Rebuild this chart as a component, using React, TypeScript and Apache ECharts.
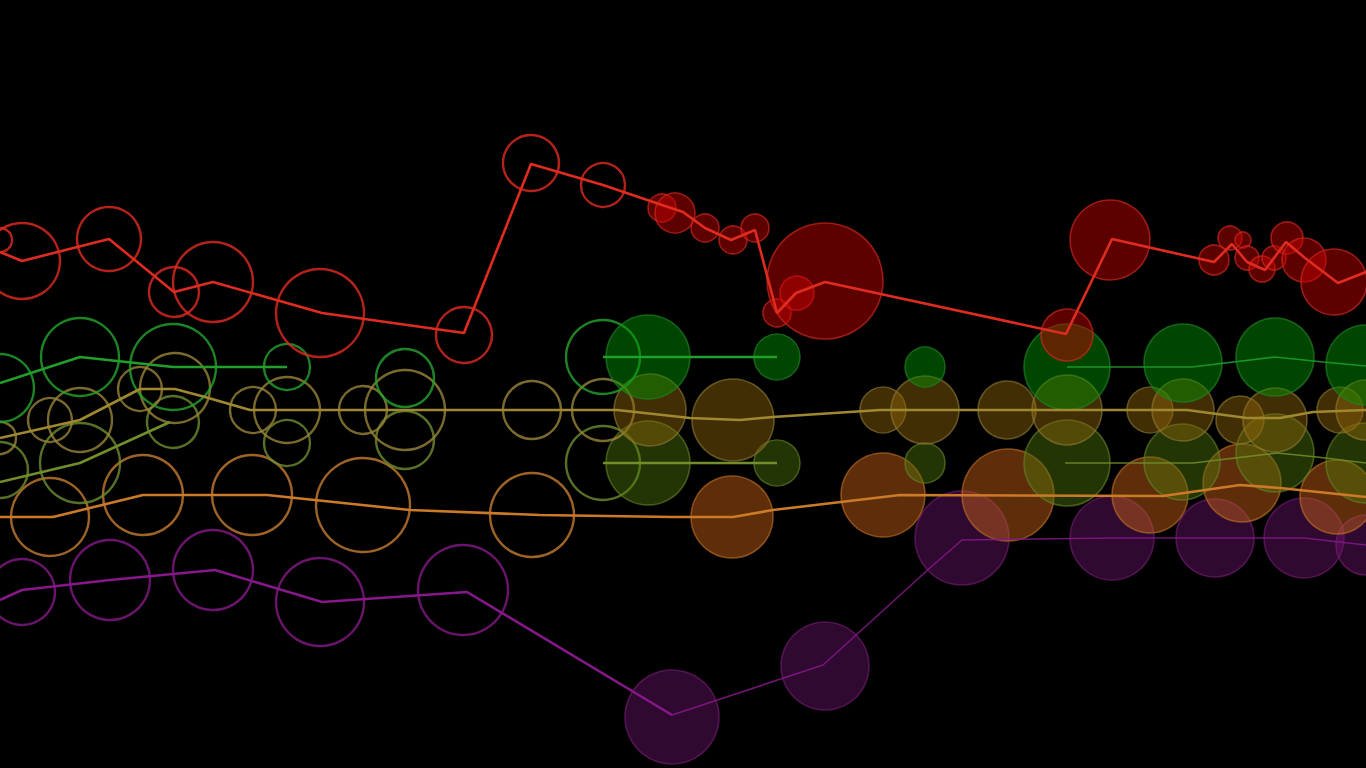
import * as echarts from "echarts";
import { useEffect, useRef } from "react";

// one row per voice: path segments [x, y] and bubbles [x, y, radius]
// x runs 0..1366 (time), y runs 0..768 from the top (pitch row)

const redPath = [
  [
    [0, 252], [22, 261], [109, 239], [174, 292], [213, 282], [322, 313], [464, 333],
    [531, 164], [603, 185], [662, 205], [683, 212], [705, 228], [731, 240], [755, 230],
    [777, 313], [796, 293], [825, 282], [1066, 334], [1112, 239], [1214, 262],
    [1232, 244], [1247, 262], [1265, 270], [1286, 242], [1305, 258], [1338, 283], [1366, 272],
  ],
];
const redBubbles = [
  [0, 240, 12], [22, 261, 38], [109, 239, 32], [174, 292, 25], [213, 282, 40],
  [320, 313, 44], [464, 335, 28], [531, 163, 28], [603, 185, 22], [662, 208, 14],
  [675, 213, 20], [705, 228, 14], [733, 240, 14], [755, 228, 14], [777, 313, 14],
  [797, 293, 17], [825, 281, 58], [1067, 335, 26], [1110, 240, 40], [1214, 260, 15],
  [1230, 238, 12], [1243, 240, 8], [1247, 258, 12], [1262, 269, 13], [1274, 258, 12],
  [1287, 238, 16], [1304, 260, 22], [1334, 282, 33],
];

const greenPath = [
  [[0, 383], [80, 357], [173, 367], [287, 367]],
  [[603, 357], [777, 357]],
  [[1067, 367], [1192, 367], [1275, 357], [1323, 362], [1366, 366]],
];
const greenBubbles = [
  [0, 388, 34], [80, 357, 39], [173, 367, 43], [287, 367, 23], [405, 378, 29],
  [603, 357, 37], [648, 357, 42], [777, 357, 23], [925, 367, 20], [1067, 367, 43],
  [1183, 363, 39], [1275, 357, 39], [1366, 365, 40],
];

const limePath = [
  [[0, 482], [80, 463], [170, 422]],
  [[603, 463], [777, 463]],
  [[1065, 463], [1193, 463], [1277, 453], [1317, 457], [1366, 463]],
];
const limeBubbles = [
  [0, 470, 28], [80, 463, 40], [173, 422, 26], [287, 443, 23], [405, 440, 29],
  [603, 463, 37], [648, 463, 42], [777, 463, 23], [925, 463, 20], [1067, 463, 43],
  [1182, 462, 38], [1275, 453, 39], [1366, 463, 40],
];

const olivePath = [
  [
    [0, 438], [80, 420], [140, 389], [175, 389], [205, 397], [250, 410], [617, 410],
    [690, 418], [740, 420], [773, 417], [880, 410], [1187, 410], [1247, 418],
    [1280, 418], [1313, 412], [1366, 410],
  ],
];
const oliveBubbles = [
  [0, 438, 16], [50, 420, 22], [80, 420, 32], [140, 389, 22], [175, 388, 35],
  [253, 410, 23], [287, 410, 33], [363, 410, 24], [405, 410, 40], [532, 410, 29],
  [603, 410, 31], [650, 410, 36], [733, 420, 41], [883, 410, 23], [925, 410, 34],
  [1007, 410, 29], [1067, 410, 35], [1150, 410, 23], [1183, 410, 31], [1240, 420, 24],
  [1275, 420, 32], [1340, 410, 23], [1366, 410, 30],
];

const orangePath = [
  [
    [0, 517], [53, 517], [143, 495], [267, 495], [410, 510], [540, 515], [673, 517],
    [733, 517], [773, 510], [900, 495], [1163, 496], [1240, 485], [1280, 488], [1366, 497],
  ],
];
const orangeBubbles = [
  [50, 517, 39], [143, 495, 40], [252, 495, 40], [363, 505, 47], [532, 515, 42],
  [732, 517, 41], [883, 495, 42], [1008, 495, 46], [1150, 495, 38], [1242, 483, 39],
  [1337, 497, 37],
];

const purplePath = [
  [[0, 600], [22, 590], [110, 580], [215, 570], [322, 602], [467, 592], [672, 715]],
  [[672, 715], [823, 665], [931, 567], [962, 540], [1112, 538], [1215, 538], [1304, 538], [1366, 545]],
];
const purpleBubbles = [
  [22, 592, 33], [110, 580, 40], [213, 570, 40], [320, 602, 44], [463, 590, 45],
  [672, 717, 47], [825, 666, 44], [962, 538, 47], [1112, 538, 42], [1215, 538, 39],
  [1304, 538, 40], [1366, 545, 30],
];

// bubbles right of this point are played (filled), left ones are still open rings
const FILL_FROM = 625;
// path segments starting right of this are drawn thinner
const THIN_FROM = 640;

interface Voice {
  name: string;
  path: number[][][];
  bubbles: number[][];
  line: string;
  ring: string;
  fill: string;
  edge: string;
}

const voices: Voice[] = [
  { name: "purple", path: purplePath, bubbles: purpleBubbles, line: "#86188a", ring: "#841a86", fill: "rgba(110,20,110,0.55)", edge: "rgba(120,30,120,0.75)" },
  { name: "orange", path: orangePath, bubbles: orangeBubbles, line: "#cc7a28", ring: "#c67c30", fill: "rgba(200,100,20,0.58)", edge: "rgba(190,110,40,0.8)" },
  { name: "lime", path: limePath, bubbles: limeBubbles, line: "#728e2a", ring: "#6e8c30", fill: "rgba(80,120,10,0.55)", edge: "rgba(100,130,40,0.8)" },
  { name: "olive", path: olivePath, bubbles: oliveBubbles, line: "#a08830", ring: "#988438", fill: "rgba(140,100,10,0.58)", edge: "rgba(140,120,50,0.8)" },
  { name: "green", path: greenPath, bubbles: greenBubbles, line: "#20a02a", ring: "#24a42e", fill: "rgba(0,150,0,0.58)", edge: "rgba(30,130,35,0.85)" },
  { name: "red", path: redPath, bubbles: redBubbles, line: "#e02c20", ring: "#e02c22", fill: "rgba(200,0,0,0.58)", edge: "rgba(210,40,30,0.85)" },
];

function voiceSeries(v: Voice) {
  const size = (val: number[]) => val[2] * 2;
  const out: any[] = [
    {
      type: "scatter",
      name: v.name,
      data: v.bubbles.filter((b) => b[0] < FILL_FROM),
      symbolSize: size,
      itemStyle: { color: "rgba(0,0,0,0)", borderColor: v.ring, borderWidth: 2.4 },
      z: 2,
    },
    {
      type: "scatter",
      name: v.name,
      data: v.bubbles.filter((b) => b[0] >= FILL_FROM),
      symbolSize: size,
      itemStyle: { color: v.fill, borderColor: v.edge, borderWidth: 1.6 },
      z: 2,
    },
  ];
  v.path.forEach((seg) => {
    const thin = seg[0][0] >= THIN_FROM;
    out.push({
      type: "line",
      name: v.name,
      data: seg,
      symbol: "none",
      lineStyle: { color: v.line, width: thin ? 1.6 : 2.6, opacity: thin ? 0.85 : 1 },
      z: 3,
    });
  });
  return out;
}

export default function App() {
  const ref = useRef<HTMLDivElement | null>(null);

  useEffect(() => {
    document.body.style.margin = "0";
    document.body.style.background = "#000";
    if (!ref.current) return;
    const chart = echarts.init(ref.current, undefined, { renderer: "svg" });

    chart.setOption({
      animation: false,
      backgroundColor: "#000",
      grid: { left: 0, right: 0, top: 0, bottom: 0 },
      xAxis: { type: "value", min: 0, max: 1366, show: false },
      yAxis: { type: "value", min: 0, max: 768, inverse: true, show: false },
      series: voices.flatMap(voiceSeries),
    });

    return () => chart.dispose();
  }, []);

  return <div ref={ref} style={{ width: 1366, height: 768, background: "#000" }} />;
}
